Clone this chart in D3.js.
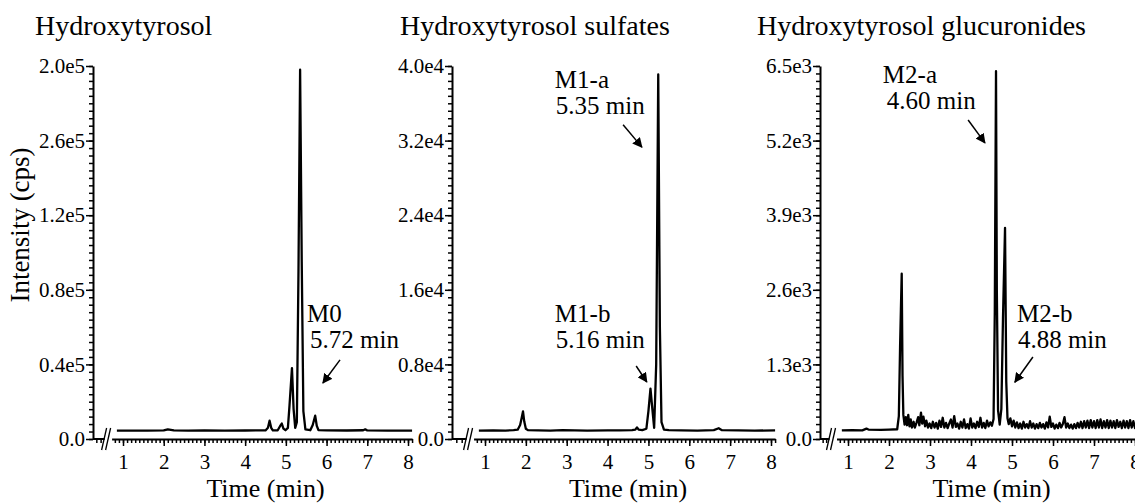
<!DOCTYPE html>
<html>
<head>
<meta charset="utf-8">
<script src="https://cdn.jsdelivr.net/npm/d3@7"></script>
<style>
  body { margin: 0; background: #fff; }
  svg { display: block; }
  text { font-family: "Liberation Serif", "Times New Roman", serif; fill: #000; }
</style>
</head>
<body>
<svg id="chart" width="1135" height="503"></svg>
<script>
// ---- data ----
var titles = ["Hydroxytyrosol", "Hydroxytyrosol sulfates", "Hydroxytyrosol glucuronides"];
var yMaxes = [2.0e5, 4.0e4, 6.5e3];
// labels as printed on the original, bottom to top
var yLabelsM0 = ["0.0", "0.4e5", "0.8e5", "1.2e5", "2.6e5", "2.0e5"];
var yLabelsM1 = ["0.0", "0.8e4", "1.6e4", "2.4e4", "3.2e4", "4.0e4"];
var yLabelsM2 = ["0.0", "1.3e3", "2.6e3", "3.9e3", "5.2e3", "6.5e3"];
var xTicks = [1, 2, 3, 4, 5, 6, 7, 8];

// [time (min), intensity (cps)]
var traceM0 = [[0.85,4500],[1.2,4500],[1.6,4450],[2.0,4600],[2.1,5200],[2.25,4600],[2.6,4500],[3.0,4550],
  [3.5,4500],[4.0,4550],[4.5,4600],[4.56,6000],[4.6,9800],[4.64,6000],[4.68,4600],[4.8,4700],[4.86,7000],
  [4.9,8300],[4.94,5600],[4.99,4700],[5.05,6000],[5.09,18000],[5.15,38000],[5.19,16000],[5.23,6000],
  [5.27,9000],[5.31,90000],[5.35,198000],[5.39,95000],[5.43,15000],[5.48,5200],[5.6,4700],[5.66,7500],
  [5.72,12500],[5.76,7000],[5.8,4800],[6.0,4600],[6.5,4550],[6.9,4700],[6.95,5200],[7.0,4600],[7.5,4500],[8.1,4500]];

var traceM1 = [[0.85,900],[1.2,920],[1.5,900],[1.7,950],[1.8,1000],[1.86,1500],[1.9,2300],[1.93,2950],
  [1.96,1900],[2.0,1100],[2.05,950],[2.3,920],[2.6,900],[2.9,950],[3.2,920],[3.5,900],[4.0,930],[4.3,920],
  [4.6,950],[4.68,1000],[4.72,1250],[4.76,1000],[4.85,950],[4.95,1100],[5.0,3000],[5.05,5400],[5.09,3500],
  [5.14,1200],[5.19,8000],[5.24,39100],[5.28,12000],[5.32,1800],[5.38,1000],[5.5,950],[5.8,930],[6.2,900],
  [6.6,950],[6.72,1150],[6.8,950],[7.2,920],[7.6,900],[8.1,920]];

var traceM2 = [[0.85,150],[1.1,155],[1.35,150],[1.45,180],[1.5,165],[1.8,160],[2.0,165],[2.2,170],[2.24,400],
  [2.27,1600],[2.29,2250],[2.31,2880],[2.33,1100],[2.35,420],[2.38,250],[2.41,380],[2.44,240],[2.47,420],
  [2.5,220],[2.53,340],[2.56,200],[2.6,300],[2.63,200],[2.67,280],[2.71,380],[2.74,240],[2.78,460],[2.81,270],
  [2.84,390],[2.88,220],[2.91,320],[2.95,200],[2.99,270],[3.03,190],[3.07,300],[3.11,200],[3.15,280],[3.19,180],
  [3.23,320],[3.27,210],[3.31,370],[3.35,200],[3.39,280],[3.43,190],[3.47,270],[3.51,340],[3.55,200],[3.59,400],
  [3.63,210],[3.67,270],[3.71,180],[3.75,300],[3.79,200],[3.83,340],[3.87,190],[3.91,260],[3.95,180],[3.99,360],
  [4.03,200],[4.07,270],[4.11,190],[4.15,300],[4.19,210],[4.23,370],[4.27,200],[4.31,280],[4.35,190],[4.39,320],
  [4.43,220],[4.47,290],[4.51,230],[4.55,350],[4.58,2200],[4.61,6410],[4.63,2600],[4.66,500],[4.7,250],
  [4.74,520],[4.78,2100],[4.83,3680],[4.86,1000],[4.89,360],[4.92,260],[4.96,360],[5.0,220],[5.04,320],
  [5.08,200],[5.12,290],[5.16,190],[5.2,270],[5.24,180],[5.28,300],[5.32,200],[5.36,260],[5.4,190],[5.44,310],
  [5.48,200],[5.52,270],[5.56,180],[5.6,260],[5.64,190],[5.68,280],[5.72,200],[5.76,260],[5.8,180],[5.84,290],
  [5.88,200],[5.92,390],[5.96,210],[6.0,270],[6.04,180],[6.08,250],[6.12,190],[6.16,280],[6.2,200],[6.24,260],
  [6.28,380],[6.32,200],[6.36,270],[6.4,190],[6.44,250],[6.48,180],[6.52,260],[6.56,190],[6.6,280],[6.64,200],
  [6.68,300],[6.72,190],[6.76,310],[6.8,200],[6.84,320],[6.88,190],[6.92,330],[6.96,200],[7.0,310],[7.04,190],
  [7.08,330],[7.12,200],[7.16,340],[7.2,190],[7.24,310],[7.28,200],[7.32,330],[7.36,190],[7.4,320],[7.44,200],
  [7.48,310],[7.52,190],[7.56,330],[7.6,210],[7.64,300],[7.68,190],[7.72,320],[7.76,200],[7.8,310],[7.84,190],
  [7.88,330],[7.92,200],[7.96,310],[8.0,190],[8.04,330],[8.08,200],[8.12,310]];

// peak annotations: label lines, text anchor (time, intensity), arrow from / to (time, intensity)
var notesM0 = [{lines: ["M0", "5.72 min"], at: [5.52, 62700], dx2: 3, from: [6.33, 42400], to: [5.91, 30000]}];
var notesM1 = [{lines: ["M1-a", "5.35 min"], at: [2.71, 37600], dx2: 1, from: [4.38, 33700], to: [4.84, 31300]},
               {lines: ["M1-b", "5.16 min"], at: [2.71, 12550], dx2: 1, from: [4.70, 7830], to: [4.96, 6110]}];
var notesM2 = [{lines: ["M2-a", "4.60 min"], at: [1.85, 6200], dx2: 4, from: [3.93, 5560], to: [4.34, 5160]},
               {lines: ["M2-b", "4.88 min"], at: [5.12, 2040], dx2: 1, from: [5.51, 1430], to: [5.07, 990]}];

// ---- layout ----
var yTop = 66, yBottom = 439;
var panels = [
  {title: titles[0], titleX: 35, axisX: 93, p1: 123, p8: 408, yMax: yMaxes[0], labels: yLabelsM0, trace: traceM0, notes: notesM0},
  {title: titles[1], titleX: 400, axisX: 452, p1: 485, p8: 771, yMax: yMaxes[1], labels: yLabelsM1, trace: traceM1, notes: notesM1},
  {title: titles[2], titleX: 757, axisX: 820, p1: 848, p8: 1135, yMax: yMaxes[2], labels: yLabelsM2, trace: traceM2, notes: notesM2}
];
var tStart = 0.72, tEnd = 8.1;

var svg = d3.select("#chart");

svg.append("defs").append("marker")
  .attr("id", "arrow")
  .attr("viewBox", "0 0 10 10")
  .attr("refX", 9).attr("refY", 5)
  .attr("markerWidth", 10).attr("markerHeight", 10)
  .attr("markerUnits", "userSpaceOnUse")
  .attr("orient", "auto")
  .append("path").attr("d", "M0,0 L10,5 L0,10 z").attr("fill", "#000");

// Y axis title
svg.append("text")
  .attr("transform", "translate(29,225) rotate(-90)")
  .attr("text-anchor", "middle")
  .attr("font-size", 27)
  .text("Intensity (cps)");

panels.forEach(function(p) {
  var step = (p.p8 - p.p1) / 7;
  var x = d3.scaleLinear().domain([tStart, tEnd])
    .range([p.p1 + (tStart - 1) * step, p.p1 + (tEnd - 1) * step]);
  var y = d3.scaleLinear().domain([0, p.yMax]).range([yBottom, yTop]);
  var g = svg.append("g");

  g.append("text").attr("x", p.titleX).attr("y", 35).attr("font-size", 28).text(p.title);

  // y axis: minor then major
  var yMinor = d3.range(0, 51).map(function(i) { return i * p.yMax / 50; });
  var yMajor = d3.range(0, 6).map(function(i) { return i * p.yMax / 5; });
  var ym = g.append("g").attr("transform", "translate(" + p.axisX + ",0)")
    .call(d3.axisLeft(y).tickValues(yMinor).tickSize(4).tickFormat(""));
  ym.select(".domain").remove();
  ym.selectAll("line").attr("stroke-width", 1.5);
  var yA = g.append("g").attr("transform", "translate(" + p.axisX + ",0)")
    .call(d3.axisLeft(y).tickValues(yMajor).tickSize(7).tickSizeOuter(0).tickPadding(1)
      .tickFormat(function(d, i) { return p.labels[i]; }));
  yA.select(".domain").attr("stroke-width", 2);
  yA.selectAll("line").attr("stroke-width", 1.5);
  yA.selectAll("text").attr("font-size", 21).attr("font-family", null).attr("fill", "#000");

  // x axis: minor then major
  var xMinor = d3.range(8, 82).map(function(i) { return i / 10; }).filter(function(t) { return t <= tEnd + 1e-9; });
  var xm = g.append("g").attr("transform", "translate(0," + yBottom + ")")
    .call(d3.axisBottom(x).tickValues(xMinor).tickSize(4).tickFormat(""));
  xm.select(".domain").remove();
  xm.selectAll("line").attr("stroke-width", 1.5);
  var xA = g.append("g").attr("transform", "translate(0," + yBottom + ")")
    .call(d3.axisBottom(x).tickValues(xTicks).tickSize(7).tickSizeOuter(0).tickPadding(8));
  xA.select(".domain").attr("stroke-width", 2);
  xA.selectAll("line").attr("stroke-width", 1.5);
  xA.selectAll("text").attr("font-size", 21).attr("font-family", null).attr("fill", "#000");

  // axis segment before the break and the break marks
  var bx = x.range()[0];
  g.append("line").attr("x1", p.axisX).attr("x2", bx - 7).attr("y1", yBottom).attr("y2", yBottom)
    .attr("stroke", "#000").attr("stroke-width", 2);
  [0.33, 0.7].forEach(function(f) {
    var tx = p.axisX + (bx - 7 - p.axisX) * f;
    g.append("line").attr("x1", tx).attr("x2", tx).attr("y1", yBottom).attr("y2", yBottom + 4)
      .attr("stroke", "#000").attr("stroke-width", 1.5);
  });
  [bx - 7, bx - 3].forEach(function(cx) {
    g.append("line").attr("x1", cx - 3).attr("y1", yBottom + 11).attr("x2", cx + 2).attr("y2", yBottom - 11)
      .attr("stroke", "#000").attr("stroke-width", 1.3);
  });

  g.append("text").attr("x", (p.p1 + p.p8) / 2).attr("y", 497).attr("text-anchor", "middle")
    .attr("font-size", 26).text("Time (min)");

  // trace
  var line = d3.line().x(function(d) { return x(d[0]); }).y(function(d) { return y(d[1]); });
  g.append("path").datum(p.trace).attr("d", line)
    .attr("fill", "none").attr("stroke", "#000").attr("stroke-width", 2.3).attr("stroke-linejoin", "round");

  // annotations
  p.notes.forEach(function(n) {
    var t = g.append("text").attr("font-size", 25);
    t.append("tspan").attr("x", x(n.at[0])).attr("y", y(n.at[1])).text(n.lines[0]);
    t.append("tspan").attr("x", x(n.at[0]) + n.dx2).attr("dy", 26).text(n.lines[1]);
    g.append("line")
      .attr("x1", x(n.from[0])).attr("y1", y(n.from[1]))
      .attr("x2", x(n.to[0])).attr("y2", y(n.to[1]))
      .attr("stroke", "#000").attr("stroke-width", 1.5).attr("marker-end", "url(#arrow)");
  });
});
</script>
</body>
</html>
